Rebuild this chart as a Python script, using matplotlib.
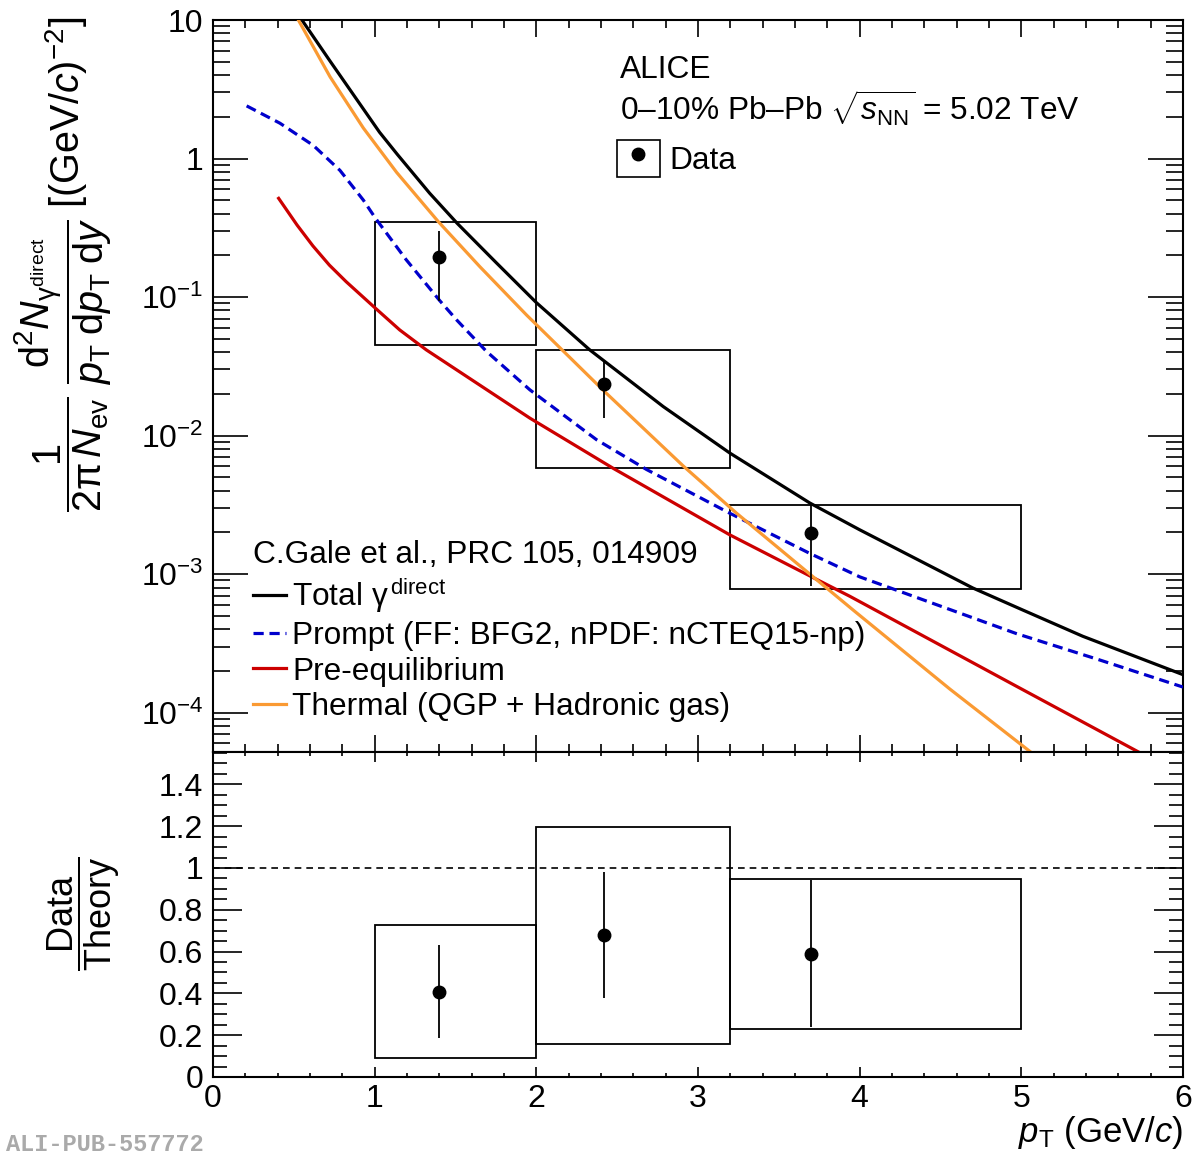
import numpy as np
import matplotlib
matplotlib.use("Agg")
import matplotlib.pyplot as plt
from matplotlib.ticker import FixedLocator, LogLocator, MultipleLocator, FuncFormatter, NullFormatter
from matplotlib.lines import Line2D
from matplotlib.patches import Patch
from matplotlib.legend_handler import HandlerTuple

# ---- data ----
pt_data = np.array([1.4, 2.42, 3.7])
bin_lo = np.array([1.0, 2.0, 3.2])
bin_hi = np.array([2.0, 3.2, 5.0])

yield_val = np.array([0.196, 0.0236, 0.00198])
yield_stat_hi = np.array([0.300, 0.0343, 0.00317])
yield_stat_lo = np.array([0.0929, 0.01336, 0.000825])
yield_sys_hi = np.array([0.347, 0.0416, 0.00317])
yield_sys_lo = np.array([0.0454, 0.0058, 0.000785])

ratio_val = np.array([0.408, 0.678, 0.589])
ratio_stat_hi = np.array([0.630, 0.979, 0.941])
ratio_stat_lo = np.array([0.188, 0.376, 0.238])
ratio_sys_hi = np.array([0.729, 1.198, 0.949])
ratio_sys_lo = np.array([0.089, 0.159, 0.230])

total_pt = [0.55, 0.72, 1.03, 1.14, 1.34, 1.51, 1.75, 2.0, 2.33, 2.785, 3.197, 3.692, 4.0, 4.7, 5.01, 5.38, 6.0]
total_y = [10, 5.13, 1.549, 1.072, 0.562, 0.341, 0.178, 0.0912, 0.0416, 0.0162, 0.00748, 0.00326,
           0.00209, 0.000794, 0.00055, 0.000356, 0.000188]

prompt_pt = [0.208, 0.414, 0.62, 0.785, 0.93, 1.004, 1.195, 1.402, 1.507, 1.69, 1.96, 2.373, 2.682,
             3.197, 3.692, 4.001, 4.97, 5.485, 6.0]
prompt_y = [2.399, 1.799, 1.245, 0.822, 0.501, 0.372, 0.186, 0.0944, 0.0684, 0.0407, 0.0214, 0.00933,
            0.00569, 0.00275, 0.00141, 0.000955, 0.000372, 0.00024, 0.000153]

preeq_pt = [0.406, 0.52, 0.618, 0.72, 0.824, 1.004, 1.155, 1.319, 1.96, 2.476, 3.197, 3.754, 3.939,
            4.97, 5.733]
preeq_y = [0.516, 0.331, 0.234, 0.170, 0.129, 0.0832, 0.0579, 0.0416, 0.01337, 0.0058, 0.00192,
           0.000891, 0.000692, 0.000155, 5.14e-5]

thermal_pt = [0.528, 0.724, 0.93, 1.136, 1.393, 1.65, 1.94, 2.42, 2.909, 3.239, 3.692, 3.96, 4.558, 5.053]
thermal_y = [10, 3.89, 1.66, 0.794, 0.351, 0.166, 0.0741, 0.0209, 0.00603, 0.00275, 0.001, 0.00055,
             0.000148, 5.25e-5]

model_labels = ["Total $\\mathrm{\\gamma}^{\\,\\mathrm{direct}}$",
                "Prompt (FF: BFG2, nPDF: nCTEQ15-np)",
                "Pre-equilibrium",
                "Thermal (QGP + Hadronic gas)"]

# ---- style ----
plt.rcParams['font.family'] = ['Liberation Sans', 'DejaVu Sans']
plt.rcParams['mathtext.fontset'] = 'custom'
plt.rcParams['mathtext.rm'] = 'Liberation Sans'
plt.rcParams['mathtext.it'] = 'Liberation Sans:italic'
plt.rcParams['mathtext.sf'] = 'Liberation Sans'
plt.rcParams['mathtext.bf'] = 'Liberation Sans:bold'
plt.rcParams['axes.linewidth'] = 1.5

FS = 22.8
TICK_FS = 23
W, H = 1195, 1158
fig = plt.figure(figsize=(W / 100, H / 100), dpi=100)

ax = fig.add_axes([213 / W, 1 - 752 / H, 970 / W, 732 / H])
ax2 = fig.add_axes([213 / W, 1 - 1077 / H, 970 / W, 325 / H], sharex=ax)

# ---- top panel ----
ax.set_yscale("log")
ax.bar(bin_lo, yield_sys_hi - yield_sys_lo, bottom=yield_sys_lo, width=bin_hi - bin_lo, align="edge",
       fill=False, edgecolor="black", linewidth=1.3, zorder=2)
h_total, = ax.plot(total_pt, total_y, color="black", lw=2.3, zorder=4)
h_prompt, = ax.plot(prompt_pt, prompt_y, color="#0000cc", lw=2.3, linestyle=(0, (3.2, 1.8)), zorder=4)
h_preeq, = ax.plot(preeq_pt, preeq_y, color="#cc0000", lw=2.3, zorder=4)
h_thermal, = ax.plot(thermal_pt, thermal_y, color="#fa9a33", lw=2.3, zorder=4)
ax.errorbar(pt_data, yield_val, yerr=[yield_val - yield_stat_lo, yield_stat_hi - yield_val], fmt="o",
            color="black", ms=9, elinewidth=1.3, capsize=0, zorder=5)

ax.set_xlim(0, 6)
ax.set_ylim(5.2e-5, 10)
ax.yaxis.set_major_locator(FixedLocator([1e-4, 1e-3, 1e-2, 1e-1, 1, 10]))
ax.yaxis.set_minor_locator(LogLocator(base=10, subs=np.arange(2, 10), numticks=20))
ax.yaxis.set_minor_formatter(NullFormatter())


def log_fmt(v, pos):
    e = int(round(np.log10(v)))
    if e == 1:
        return "10"
    if e == 0:
        return "1"
    return "$10^{%d}$" % e


ax.yaxis.set_major_formatter(FuncFormatter(log_fmt))
ax.xaxis.set_major_locator(MultipleLocator(1))
ax.xaxis.set_minor_locator(MultipleLocator(0.2))
ax.tick_params(which="both", direction="in", top=True, right=True, width=1.2, labelsize=TICK_FS)
ax.tick_params(axis="x", which="major", length=12)
ax.tick_params(axis="x", which="minor", length=6)
ax.tick_params(axis="y", which="major", length=25, pad=7)
ax.tick_params(axis="y", which="minor", length=12)
ax.tick_params(axis="x", labelbottom=False)

leg = ax.legend([h_total, h_prompt, h_preeq, h_thermal], model_labels, title="C.Gale et al., PRC 105, 014909",
                loc="upper left", bbox_to_anchor=(0.041, 0.289), frameon=False, fontsize=FS,
                title_fontsize=FS, alignment="left", borderpad=0, borderaxespad=0, handlelength=1.05,
                handletextpad=0.2, labelspacing=0.18)
ax.add_artist(leg)

data_handle = (Patch(facecolor="none", edgecolor="black", linewidth=1.2),
               Line2D([], [], marker="o", color="black", linestyle="none", ms=9))
ax.legend([data_handle], ["Data"], handler_map={tuple: HandlerTuple(ndivide=1)}, loc="upper left",
          bbox_to_anchor=(0.4165, 0.836), frameon=False, fontsize=FS, borderpad=0, borderaxespad=0,
          handlelength=1.35, handleheight=1.4, handletextpad=0.3)

fig.text(620 / W, 1 - 78 / H, "ALICE", fontsize=FS, va="baseline")
fig.text(620 / W, 1 - 121 / H, "0\u201310% Pb\u2013Pb $\\sqrt{s_{\\mathrm{NN}}}$ = 5.02 TeV", fontsize=FS,
         va="baseline")

fig.text(63 / W, 1 - 264 / H,
         r"$\dfrac{1}{2\mathrm{\pi}\,N_{\mathrm{ev}}}\;\dfrac{\mathrm{d}^{2}N_{\mathrm{\gamma}^{\mathrm{direct}}}}"
         r"{p_{\mathrm{T}}\;\mathrm{d}p_{\mathrm{T}}\;\mathrm{d}y}\;[(\mathrm{GeV}/c)^{-2}]$",
         rotation=90, ha="center", va="center", fontsize=28.5)

# ---- ratio panel ----
ax2.bar(bin_lo, ratio_sys_hi - ratio_sys_lo, bottom=ratio_sys_lo, width=bin_hi - bin_lo, align="edge",
        fill=False, edgecolor="black", linewidth=1.3, zorder=2)
ax2.errorbar(pt_data, ratio_val, yerr=[ratio_val - ratio_stat_lo, ratio_stat_hi - ratio_val], fmt="o",
             color="black", ms=9, elinewidth=1.3, capsize=0, zorder=5)
ax2.axhline(1.0, color="black", lw=1.2, linestyle=(0, (4, 3)), zorder=1)
ax2.set_ylim(0, 1.555)
ax2.yaxis.set_major_locator(MultipleLocator(0.2))
ax2.yaxis.set_minor_locator(MultipleLocator(0.05))
ax2.yaxis.set_major_formatter(FuncFormatter(lambda v, p: "%g" % round(v, 2)))
ax2.tick_params(which="both", direction="in", top=True, right=True, width=1.2, labelsize=TICK_FS)
ax2.tick_params(axis="x", which="major", length=7, pad=5)
ax2.tick_params(axis="x", which="minor", length=3)
ax2.tick_params(axis="y", which="major", length=21, pad=7)
ax2.tick_params(axis="y", which="minor", length=10)
ax2.tick_params(axis="x", labelbottom=True)

ax2.set_xlabel("$p_{\\mathrm{T}}$ (GeV/$c$)", fontsize=25, loc="right")
ax2.xaxis.set_label_coords(1.0, -0.115)

fig.text(84 / W, 1 - 914 / H, r"$\dfrac{\mathrm{Data}}{\mathrm{Theory}}$", rotation=90, ha="center",
         va="center", fontsize=26)

fig.text(6 / W, 1 - 1151 / H, "ALI-PUB-557772", fontsize=17, family="Liberation Mono", weight="bold",
         color="#aaaaaa", va="baseline")

fig.savefig("out.png", dpi=100)
